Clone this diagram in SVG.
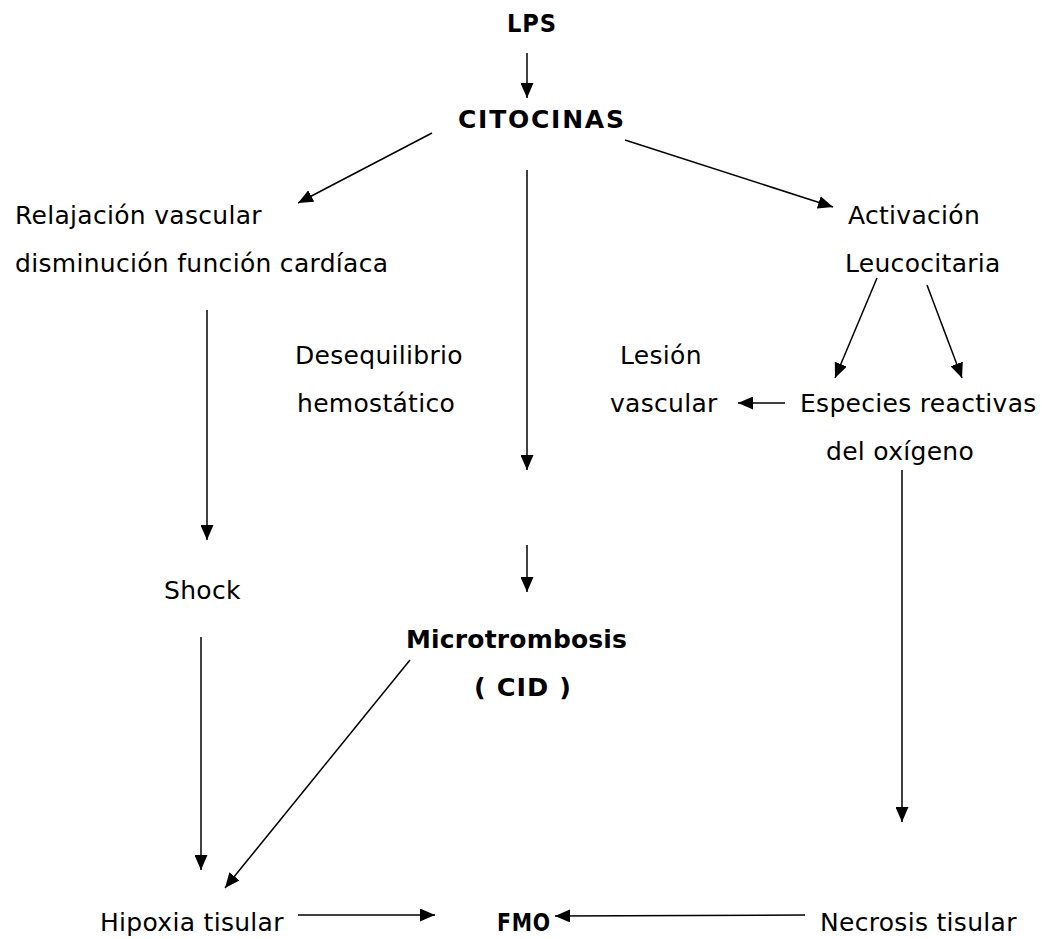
<svg xmlns="http://www.w3.org/2000/svg" width="1042" height="939" viewBox="0 0 1042 939">
<style>
text{font-family:"DejaVu Sans","Liberation Sans",sans-serif;font-size:25px;letter-spacing:0.3px;fill:#000}
.b{font-weight:bold;letter-spacing:1px}
.c line{stroke:#000;stroke-width:1.5;marker-end:url(#ah)}
</style>
<defs>
<marker id="ah" viewBox="0 0 15 13" refX="15" refY="6.5" markerWidth="15" markerHeight="13" markerUnits="userSpaceOnUse" orient="auto">
<path d="M0,0L15,6.5L0,13z" fill="#000"/>
</marker>
</defs>
<rect width="1042" height="939" fill="#fff"/>
<g id="lps"><text class="b" x="507" y="32" textLength="50" lengthAdjust="spacingAndGlyphs">LPS</text></g>
<g id="citocinas"><text class="b" x="458" y="128" textLength="167" lengthAdjust="spacing">CITOCINAS</text></g>
<g id="relajacion"><text x="15" y="224">Relajación vascular</text><text x="15" y="272">disminución función cardíaca</text></g>
<g id="activacion"><text x="848" y="224">Activación</text><text x="845" y="272">Leucocitaria</text></g>
<g id="desequilibrio"><text x="295" y="364">Desequilibrio</text><text x="297" y="412">hemostático</text></g>
<g id="lesion"><text x="620" y="364">Lesión</text><text x="610" y="412">vascular</text></g>
<g id="especies"><text x="800" y="412">Especies reactivas</text><text x="826" y="460">del oxígeno</text></g>
<g id="shock"><text x="164" y="599">Shock</text></g>
<g id="microtrombosis"><text class="b" x="406" y="648" textLength="222" lengthAdjust="spacing">Microtrombosis</text><text class="b" x="474" y="696" textLength="98" lengthAdjust="spacingAndGlyphs">( CID )</text></g>
<g id="hipoxia"><text x="100" y="931">Hipoxia tisular</text></g>
<g id="fmo"><text class="b" x="497" y="931" textLength="54" lengthAdjust="spacingAndGlyphs">FMO</text></g>
<g id="necrosis"><text x="820" y="931">Necrosis tisular</text></g>
<g id="connectors" class="c">
<line x1="527" y1="53" x2="527" y2="98"/>
<line x1="432" y1="133" x2="298" y2="203"/>
<line x1="527" y1="170" x2="527" y2="470"/>
<line x1="625" y1="140" x2="833" y2="207"/>
<line x1="877" y1="278" x2="835" y2="378"/>
<line x1="927" y1="285" x2="962" y2="378"/>
<line x1="785" y1="403" x2="738" y2="403"/>
<line x1="207" y1="310" x2="207" y2="540"/>
<line x1="527" y1="545" x2="527" y2="592"/>
<line x1="201" y1="637" x2="201" y2="870"/>
<line x1="410" y1="660" x2="225" y2="888"/>
<line x1="902" y1="470" x2="902" y2="822"/>
<line x1="298" y1="915" x2="435" y2="915"/>
<line x1="805" y1="915" x2="555" y2="916"/>
</g>
</svg>
